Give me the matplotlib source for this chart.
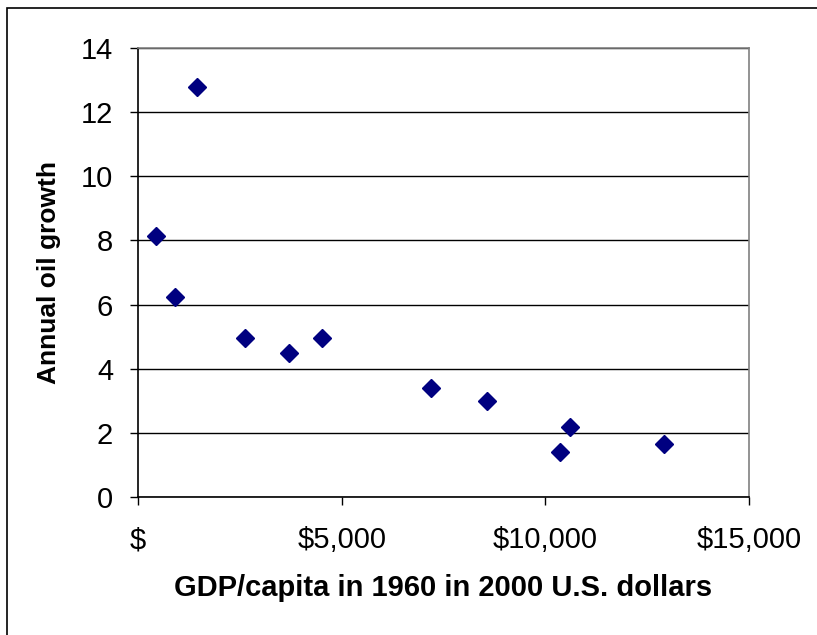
import matplotlib.pyplot as plt
from matplotlib.patches import Rectangle
from matplotlib.ticker import FuncFormatter

plt.rcParams['font.family'] = ['Liberation Sans', 'DejaVu Sans']

# GDP per capita 1960 (2000 US$) vs annual oil growth
gdp = [435, 902, 1450, 2619, 3710, 4512, 7184, 8563, 10369, 10602, 12924]
oil_growth = [8.15, 6.25, 12.79, 4.95, 4.50, 4.95, 3.41, 3.00, 1.40, 2.17, 1.66]

fig = plt.figure(figsize=(8.17, 6.35), dpi=100)
ax = fig.add_axes([138 / 817, 138 / 635, 611 / 817, 449 / 635])

# outer chart border
fig.patches.append(Rectangle((7 / 817, -0.05), 1.2, 1 - 8 / 635 + 0.05,
                             transform=fig.transFigure, fill=False,
                             edgecolor='black', linewidth=1.2))

ax.plot(gdp, oil_growth, linestyle='none', marker='D', markersize=9,
        color='#000080', clip_on=False, zorder=3)

ax.set_xlim(0, 15000)
ax.set_ylim(0, 14)
ax.set_xticks([0, 5000, 10000, 15000])
ax.set_yticks(range(0, 15, 2))


def dollars(v, pos):
    if v == 0:
        return '$'
    return '${:,.0f}'.format(v)


ax.xaxis.set_major_formatter(FuncFormatter(dollars))
ax.yaxis.grid(True, color='black', linewidth=1)
ax.set_axisbelow(True)

for side in ['top', 'right']:
    ax.spines[side].set_color('#808080')
    ax.spines[side].set_linewidth(1.2)
for side in ['left', 'bottom']:
    ax.spines[side].set_color('black')
    ax.spines[side].set_linewidth(1.2)

ax.tick_params(axis='both', labelsize=21, length=6, width=1, direction='out')
ax.tick_params(axis='x', pad=15)
ax.tick_params(axis='y', pad=12)

ax.set_xlabel('GDP/capita in 1960 in 2000 U.S. dollars', fontsize=21,
              fontweight='bold', labelpad=14)
ax.set_ylabel('Annual oil growth', fontsize=19, fontweight='bold',
              labelpad=14)

fig.savefig('out.png', dpi=100)
